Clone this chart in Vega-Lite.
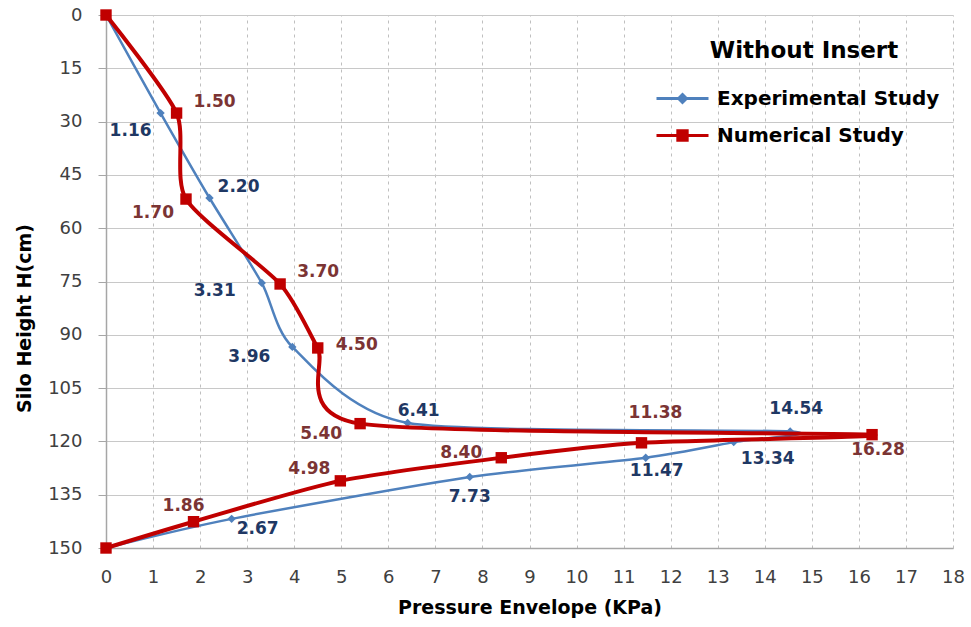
{
  "$schema": "https://vega.github.io/schema/vega-lite/v6.json",
  "width": 847,
  "height": 533,
  "autosize": {"type": "none"},
  "padding": {"left": 106, "top": 15, "right": 18, "bottom": 79},
  "background": "white",
  "data": {
    "values": [
      {"s": "Experimental Study", "i": 0, "x": 0, "y": 0},
      {"s": "Experimental Study", "i": 1, "x": 1.16, "y": 27.6},
      {"s": "Experimental Study", "i": 2, "x": 2.20, "y": 51.5},
      {"s": "Experimental Study", "i": 3, "x": 3.31, "y": 75.4},
      {"s": "Experimental Study", "i": 4, "x": 3.96, "y": 93.4},
      {"s": "Experimental Study", "i": 5, "x": 6.41, "y": 114.8},
      {"s": "Experimental Study", "i": 6, "x": 14.54, "y": 117.2},
      {"s": "Experimental Study", "i": 7, "x": 13.34, "y": 120.2},
      {"s": "Experimental Study", "i": 8, "x": 11.47, "y": 124.6},
      {"s": "Experimental Study", "i": 9, "x": 7.73, "y": 130.0},
      {"s": "Experimental Study", "i": 10, "x": 2.67, "y": 141.8},
      {"s": "Experimental Study", "i": 11, "x": 0, "y": 150},
      {"s": "Numerical Study", "i": 0, "x": 0, "y": 0},
      {"s": "Numerical Study", "i": 1, "x": 1.50, "y": 27.6},
      {"s": "Numerical Study", "i": 2, "x": 1.70, "y": 51.8},
      {"s": "Numerical Study", "i": 3, "x": 3.70, "y": 75.7},
      {"s": "Numerical Study", "i": 4, "x": 4.50, "y": 93.7},
      {"s": "Numerical Study", "i": 5, "x": 5.40, "y": 115.0},
      {"s": "Numerical Study", "i": 6, "x": 16.28, "y": 118.1},
      {"s": "Numerical Study", "i": 7, "x": 11.38, "y": 120.4},
      {"s": "Numerical Study", "i": 8, "x": 8.40, "y": 124.6},
      {"s": "Numerical Study", "i": 9, "x": 4.98, "y": 131.1},
      {"s": "Numerical Study", "i": 10, "x": 1.86, "y": 142.6},
      {"s": "Numerical Study", "i": 11, "x": 0, "y": 150}
    ]
  },
  "config": {
    "view": {"stroke": null},
    "axis": {
      "labelFont": "DejaVu Sans",
      "labelFontSize": 18,
      "labelColor": "#404040",
      "labelFlush": false,
      "titleFont": "DejaVu Sans",
      "titleFontSize": 19,
      "titleFontWeight": "bold",
      "titleColor": "#000000",
      "domainColor": "#A6A6A6",
      "domainWidth": 1.5,
      "tickColor": "#A6A6A6",
      "gridColor": "#C8C8C8",
      "gridWidth": 1
    },
    "legend": {
      "titleFont": "DejaVu Sans",
      "titleFontSize": 23,
      "titleFontWeight": "bold",
      "titleColor": "#000000",
      "titleAnchor": "middle",
      "titlePadding": 21,
      "titleLimit": 0,
      "labelLimit": 0,
      "labelFont": "DejaVu Sans",
      "labelFontSize": 20,
      "labelFontWeight": "bold",
      "labelColor": "#000000",
      "labelOffset": 20,
      "rowPadding": 12,
      "symbolSize": 676,
      "symbolStrokeWidth": 3,
      "padding": 0
    },
    "text": {"font": "DejaVu Sans", "fontSize": 17, "fontWeight": "bold", "align": "center", "baseline": "middle"}
  },
  "encoding": {
    "x": {
      "field": "x", "type": "quantitative",
      "scale": {"domain": [0, 18], "nice": false},
      "axis": {"title": "Pressure Envelope (KPa)", "values": [0,1,2,3,4,5,6,7,8,9,10,11,12,13,14,15,16,17,18], "tickSize": 0, "labelPadding": 20, "titlePadding": 12, "gridDash": [3, 4], "gridColor": "#BFBFBF"}
    },
    "y": {
      "field": "y", "type": "quantitative",
      "scale": {"domain": [0, 150], "reverse": true, "nice": false},
      "axis": {"title": "Silo Height H(cm)", "values": [0,15,30,45,60,75,90,105,120,135,150], "tickSize": 8, "labelPadding": 16, "titleX": -82, "titleY": 303, "titleBaseline": "middle"}
    }
  },
  "layer": [
    {
      "transform": [{"filter": "datum.s == 'Experimental Study'"}],
      "mark": {"type": "line", "interpolate": "cardinal", "tension": 0.3, "color": "#4F81BD", "strokeWidth": 2.5},
      "encoding": {"order": {"field": "i", "type": "quantitative"}}
    },
    {
      "transform": [{"filter": "datum.s == 'Experimental Study'"}],
      "mark": {"type": "point", "shape": "diamond", "filled": true, "size": 70, "color": "#4F81BD", "opacity": 1}
    },
    {
      "transform": [{"filter": "datum.s == 'Numerical Study'"}],
      "mark": {"type": "line", "interpolate": "cardinal", "tension": 0.3, "color": "#C00000", "strokeWidth": 4},
      "encoding": {"order": {"field": "i", "type": "quantitative"}}
    },
    {
      "transform": [{"filter": "datum.s == 'Numerical Study'"}],
      "mark": {"type": "point", "shape": "square", "filled": true, "size": 130, "color": "#C00000", "opacity": 1}
    },
    {
      "transform": [{"filter": "datum.i < 0"}],
      "mark": {"type": "point", "filled": true, "size": 676, "strokeWidth": 3, "opacity": 1},
      "encoding": {
        "fill": {"field": "s", "type": "nominal", "scale": {"domain": ["Experimental Study", "Numerical Study"], "range": ["#4F81BD", "#C00000"]}, "legend": {"title": "Without Insert", "orient": "none", "legendX": 562, "legendY": 25}},
        "stroke": {"field": "s", "type": "nominal", "scale": {"domain": ["Experimental Study", "Numerical Study"], "range": ["#4F81BD", "#C00000"]}, "legend": {"title": "Without Insert", "orient": "none", "legendX": 562, "legendY": 25}},
        "shape": {"field": "s", "type": "nominal", "scale": {"domain": ["Experimental Study", "Numerical Study"], "range": ["M-2,0L2,0M0,-0.3L0.3,0L0,0.3L-0.3,0Z", "M-2,0L2,0M-0.36,-0.36L0.36,-0.36L0.36,0.36L-0.36,0.36Z"]}, "legend": {"title": "Without Insert", "orient": "none", "legendX": 562, "legendY": 25}}
      }
    },
    {
      "encoding": {"text": {"field": "x", "type": "quantitative", "format": ".2f"}},
      "layer": [
        {"transform": [{"filter": "datum.s == 'Experimental Study' && datum.i == 1"}], "mark": {"type": "text", "dx": -30, "dy": 18, "color": "#1F3864"}},
        {"transform": [{"filter": "datum.s == 'Experimental Study' && datum.i == 2"}], "mark": {"type": "text", "dx": 29, "dy": -11, "color": "#1F3864"}},
        {"transform": [{"filter": "datum.s == 'Experimental Study' && datum.i == 3"}], "mark": {"type": "text", "dx": -47, "dy": 8, "color": "#1F3864"}},
        {"transform": [{"filter": "datum.s == 'Experimental Study' && datum.i == 4"}], "mark": {"type": "text", "dx": -43, "dy": 10, "color": "#1F3864"}},
        {"transform": [{"filter": "datum.s == 'Experimental Study' && datum.i == 5"}], "mark": {"type": "text", "dx": 11, "dy": -12, "color": "#1F3864"}},
        {"transform": [{"filter": "datum.s == 'Experimental Study' && datum.i == 6"}], "mark": {"type": "text", "dx": 6, "dy": -22, "color": "#1F3864"}},
        {"transform": [{"filter": "datum.s == 'Experimental Study' && datum.i == 7"}], "mark": {"type": "text", "dx": 34, "dy": 17, "color": "#1F3864"}},
        {"transform": [{"filter": "datum.s == 'Experimental Study' && datum.i == 8"}], "mark": {"type": "text", "dx": 11, "dy": 13, "color": "#1F3864"}},
        {"transform": [{"filter": "datum.s == 'Experimental Study' && datum.i == 9"}], "mark": {"type": "text", "dx": 0, "dy": 20, "color": "#1F3864"}},
        {"transform": [{"filter": "datum.s == 'Experimental Study' && datum.i == 10"}], "mark": {"type": "text", "dx": 26, "dy": 10, "color": "#1F3864"}},
        {"transform": [{"filter": "datum.s == 'Numerical Study' && datum.i == 1"}], "mark": {"type": "text", "dx": 38, "dy": -11, "color": "#7B3434"}},
        {"transform": [{"filter": "datum.s == 'Numerical Study' && datum.i == 2"}], "mark": {"type": "text", "dx": -33, "dy": 14, "color": "#7B3434"}},
        {"transform": [{"filter": "datum.s == 'Numerical Study' && datum.i == 3"}], "mark": {"type": "text", "dx": 38, "dy": -12, "color": "#7B3434"}},
        {"transform": [{"filter": "datum.s == 'Numerical Study' && datum.i == 4"}], "mark": {"type": "text", "dx": 39, "dy": -3, "color": "#7B3434"}},
        {"transform": [{"filter": "datum.s == 'Numerical Study' && datum.i == 5"}], "mark": {"type": "text", "dx": -39, "dy": 10, "color": "#7B3434"}},
        {"transform": [{"filter": "datum.s == 'Numerical Study' && datum.i == 6"}], "mark": {"type": "text", "dx": 6, "dy": 15, "color": "#7B3434"}},
        {"transform": [{"filter": "datum.s == 'Numerical Study' && datum.i == 7"}], "mark": {"type": "text", "dx": 14, "dy": -30, "color": "#7B3434"}},
        {"transform": [{"filter": "datum.s == 'Numerical Study' && datum.i == 8"}], "mark": {"type": "text", "dx": -40, "dy": -5, "color": "#7B3434"}},
        {"transform": [{"filter": "datum.s == 'Numerical Study' && datum.i == 9"}], "mark": {"type": "text", "dx": -31, "dy": -12, "color": "#7B3434"}},
        {"transform": [{"filter": "datum.s == 'Numerical Study' && datum.i == 10"}], "mark": {"type": "text", "dx": -10, "dy": -16, "color": "#7B3434"}}
      ]
    }
  ]
}
